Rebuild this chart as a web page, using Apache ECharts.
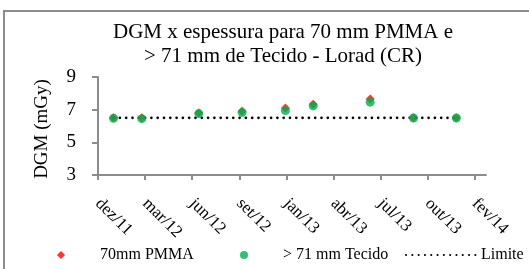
<!DOCTYPE html>
<html>
<head>
<meta charset="utf-8">
<script src="https://cdn.jsdelivr.net/npm/echarts@6/dist/echarts.min.js"></script>
<style>
  html, body { margin: 0; padding: 0; background: #fff; }
  #chart { width: 529px; height: 269px; }
</style>
</head>
<body>
<div id="chart"></div>
<script>
// measurement dates and values
const startDate = '2011-12-01'
const dates = ['2012-01-03', '2012-03-03', '2012-07-02', '2012-10-02', '2013-01-02',
  '2013-03-02', '2013-07-01', '2013-10-01', '2013-12-31']
const pmma = [6.5, 6.5, 6.8, 6.9, 7.1, 7.33, 7.65, 6.5, 6.5]
const tecido = [6.47, 6.45, 6.76, 6.82, 6.94, 7.23, 7.46, 6.49, 6.49]
const limite = [6.5, 6.5, 6.5, 6.5, 6.5, 6.5, 6.5, 6.5, 6.5]
const xTickLabels = ['dez/11', 'mar/12', 'jun/12', 'set/12', 'jan/13', 'abr/13', 'jul/13', 'out/13', 'fev/14']
const xTickStep = 100 // days
const yTicks = [3, 5, 7, 9]

const font = "'Liberation Serif', 'Times New Roman', serif"
const axisGray = '#8c8c8c'

// days since the axis origin
const day0 = Date.parse(startDate)
const xs = dates.map(d => Math.round((Date.parse(d) - day0) / 86400000))
const pairs = vals => vals.map((v, i) => [xs[i], v])
const tickValues = xTickLabels.map((_, i) => i * xTickStep)

const legendText = { color: '#000', fontFamily: font, fontSize: 16 }

const mycharts = echarts.init(document.getElementById('chart'), null, { renderer: 'canvas' })
mycharts.setOption({
  animation: false,
  textStyle: { fontFamily: font },
  title: {
    text: 'DGM x espessura para 70 mm PMMA e\n> 71 mm de Tecido - Lorad (CR)',
    left: 278,
    textAlign: 'center',
    top: 15,
    textStyle: {
      color: '#000',
      fontFamily: font,
      fontWeight: 'normal',
      fontSize: 21,
      lineHeight: 24,
    },
  },
  graphic: [
    {
      type: 'rect',
      z: -10,
      shape: { x: 4, y: 11, width: 600, height: 300 },
      style: { fill: 'none', stroke: axisGray, lineWidth: 2 },
    },
  ],
  // one legend per entry so each icon can have its own width
  legend: [
    {
      left: 52,
      top: 242,
      itemWidth: 8,
      itemHeight: 8,
      textStyle: Object.assign({ padding: [0, 0, 0, 30] }, legendText),
      data: ['70mm PMMA'],
    },
    {
      left: 235,
      top: 242,
      itemWidth: 8,
      itemHeight: 8,
      textStyle: Object.assign({ padding: [0, 0, 0, 30] }, legendText),
      data: ['> 71 mm Tecido'],
    },
    {
      left: 400,
      top: 242,
      itemWidth: 70,
      itemHeight: 8,
      textStyle: legendText,
      data: ['Limite'],
    },
  ],
  grid: {
    left: 98,
    top: 77,
    width: 388,
    height: 98,
  },
  xAxis: {
    type: 'value',
    min: 0,
    max: 824,
    interval: xTickStep,
    splitLine: { show: false },
    axisLine: { lineStyle: { color: axisGray, width: 2 } },
    axisTick: { show: true, length: 5, customValues: tickValues, lineStyle: { color: axisGray, width: 2 } },
    axisLabel: {
      customValues: tickValues,
      rotate: -45,
      margin: 26,
      color: '#000',
      fontFamily: font,
      fontSize: 17,
      formatter: v => xTickLabels[Math.round(v / xTickStep)] || '',
    },
  },
  yAxis: {
    type: 'value',
    min: yTicks[0],
    max: yTicks[yTicks.length - 1],
    interval: 2,
    name: 'DGM (mGy)',
    nameLocation: 'middle',
    nameGap: 46,
    nameTextStyle: { color: '#000', fontFamily: font, fontSize: 19, padding: [0, 6, 0, 0] },
    splitLine: { show: false },
    axisLine: { show: true, lineStyle: { color: axisGray, width: 2 } },
    axisTick: { show: true, length: 6, lineStyle: { color: axisGray, width: 2 } },
    axisLabel: { margin: 22, color: '#000', fontFamily: font, fontSize: 19 },
  },
  series: [
    {
      name: '70mm PMMA',
      type: 'scatter',
      symbol: 'diamond',
      symbolSize: 9,
      itemStyle: { color: '#ff0000' },
      data: pairs(pmma),
    },
    {
      name: '> 71 mm Tecido',
      type: 'scatter',
      symbol: 'circle',
      symbolSize: 9,
      itemStyle: { color: '#00b050' },
      data: pairs(tecido),
    },
    {
      name: 'Limite',
      type: 'line',
      symbol: 'none',
      z: 1,
      // transparent item colour hides the marker the legend draws for line series
      itemStyle: { color: 'rgba(0,0,0,0)' },
      lineStyle: { color: '#000', width: 2.6, type: [0.1, 6.2], cap: 'round' },
      data: pairs(limite),
    },
  ],
})
</script>
</body>
</html>
